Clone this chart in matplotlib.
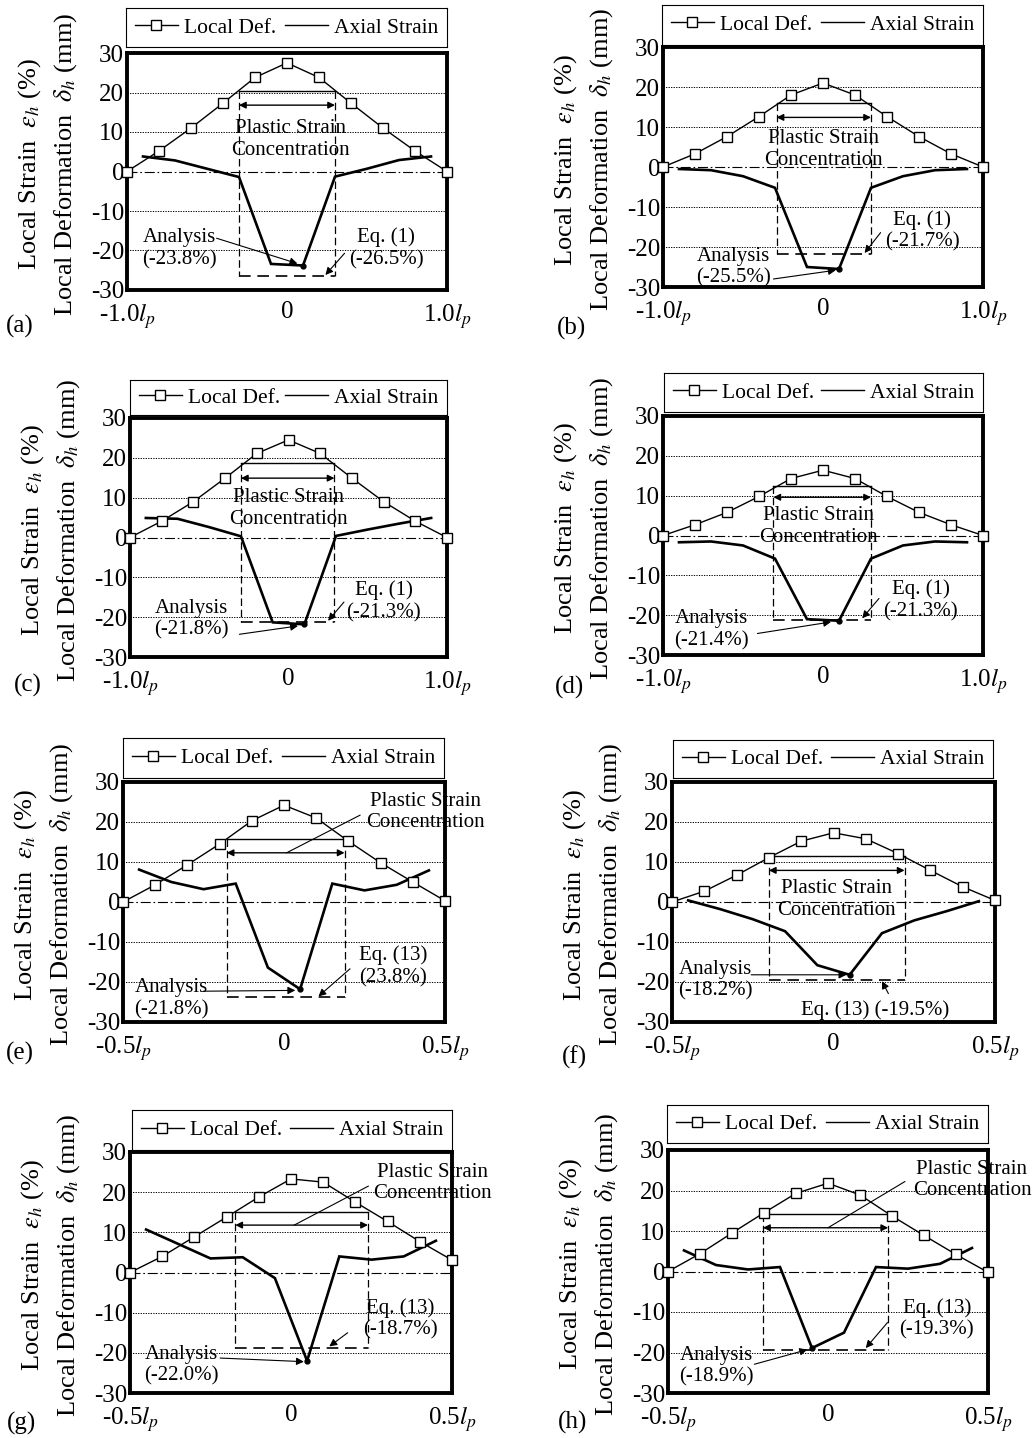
import numpy as np
import matplotlib
matplotlib.use("Agg")
import matplotlib.pyplot as plt
from matplotlib.lines import Line2D

plt.rcParams['font.family'] = ['Liberation Serif', 'DejaVu Serif']
plt.rcParams['mathtext.fontset'] = 'stix'
plt.rcParams['axes.unicode_minus'] = False

# ---------------- data ----------------
# gauge positions (fraction of plastic hinge length l_p)
X_FULL = [-1.0, -0.8, -0.6, -0.4, -0.2, 0.0, 0.2, 0.4, 0.6, 0.8, 1.0]
X_FULL_MID = [-0.9, -0.7, -0.5, -0.3, -0.1, 0.1, 0.3, 0.5, 0.7, 0.9]
X_HALF = [-0.5, -0.4, -0.3, -0.2, -0.1, 0.0, 0.1, 0.2, 0.3, 0.4, 0.5]
X_HALF_MID = [-0.45, -0.35, -0.25, -0.15, -0.05, 0.05, 0.15, 0.25, 0.35, 0.45]

# local deformation delta_h (mm)
DEF_A = [0, 5.2, 11.0, 17.3, 23.8, 27.5, 23.8, 17.3, 11.0, 5.2, 0]
DEF_B = [0, 3.3, 7.6, 12.6, 18.0, 21.0, 18.0, 12.6, 7.6, 3.3, 0]
DEF_C = [0, 4.1, 9.0, 14.9, 21.1, 24.5, 21.1, 14.9, 9.0, 4.1, 0]
DEF_D = [0, 2.7, 5.8, 9.8, 14.3, 16.4, 14.3, 9.8, 5.8, 2.7, 0]
DEF_E = [0, 4.3, 9.3, 14.5, 20.3, 24.2, 21.0, 15.2, 9.8, 5.0, 0.3]
DEF_F = [0, 2.7, 6.7, 11.1, 15.2, 17.3, 15.8, 12.1, 7.9, 3.8, 0.4]
DEF_G = [0, 4.0, 8.9, 13.8, 18.8, 23.3, 22.5, 17.5, 12.7, 7.7, 3.1]
DEF_H = [0, 4.4, 9.5, 14.5, 19.3, 21.8, 18.9, 13.7, 8.9, 4.2, -0.2]

# local axial strain epsilon_h (%)
STR_A = [3.8, 2.8, 0.7, -1.4, -23.4, -23.8, -1.3, 0.7, 2.9, 3.8]
STR_B = [-0.5, -0.8, -2.3, -5.2, -25.0, -25.5, -5.2, -2.3, -0.8, -0.5]
STR_C = [4.9, 4.7, 2.6, 0.3, -21.3, -21.8, 0.4, 2.0, 3.5, 4.9]
STR_D = [-1.7, -1.5, -2.5, -5.8, -21.0, -21.4, -5.8, -2.5, -1.5, -1.7]
STR_E = [8.1, 5.0, 3.2, 4.6, -16.4, -21.8, 4.6, 2.9, 4.3, 7.9]
STR_F = [0.4, -1.8, -4.3, -7.3, -15.8, -18.2, -7.8, -4.6, -2.3, 0.2]
STR_G = [10.7, 7.1, 3.5, 3.8, -1.4, -22.0, 4.0, 3.2, 4.0, 7.9]
STR_H = [5.2, 1.6, 0.5, 1.1, -18.9, -15.1, 1.1, 0.7, 1.9, 5.8]

# plastic strain concentration zone: left/right edge, top line, arrow level
ZONE_LEFT = [-0.30, -0.29, -0.30, -0.31, -0.178, -0.20, -0.173, -0.203]
ZONE_RIGHT = [0.30, 0.30, 0.29, 0.30, 0.188, 0.22, 0.239, 0.188]
ZONE_TOP = [20.5, 15.9, 18.7, 12.5, 15.8, 11.4, 15.0, 14.2]
ZONE_ARROW = [16.8, 12.4, 14.9, 9.6, 12.3, 7.9, 11.8, 10.8]

# predicted peak strain by equation (%)
EQ_VALUE = [-26.5, -21.7, -21.3, -21.3, -23.8, -19.5, -18.7, -19.3]
EQ_LABEL = ['Eq. (1)\n(-26.5%)', 'Eq. (1)\n(-21.7%)', 'Eq. (1)\n(-21.3%)',
            'Eq. (1)\n(-21.3%)', 'Eq. (13)\n(23.8%)', 'Eq. (13) (-19.5%)',
            'Eq. (13)\n(-18.7%)', 'Eq. (13)\n(-19.3%)']

PANEL_KEYS = ['a', 'b', 'c', 'd', 'e', 'f', 'g', 'h']
LOCAL_DEF = [DEF_A, DEF_B, DEF_C, DEF_D, DEF_E, DEF_F, DEF_G, DEF_H]
AXIAL_STRAIN = [STR_A, STR_B, STR_C, STR_D, STR_E, STR_F, STR_G, STR_H]

FULL_TICKS = ['-1.0$l_p$', '0', '1.0$l_p$']
HALF_TICKS = ['-0.5$l_p$', '0', '0.5$l_p$']
Y_TICKS = [-30, -20, -10, 0, 10, 20, 30]
YLABEL_OUTER = 'Local Strain  $\\varepsilon_h$ (%)'
YLABEL_INNER = 'Local Deformation  $\\delta_h$ (mm)'

# ---------------- layout (pixels in a 1034 x 1438 canvas) ----------------
W, H = 1034, 1438
LAYOUT = {
    'a': dict(ax=(127, 53, 447, 290), leg=(126, 8, 447, 47), lab=(20, 326)),
    'b': dict(ax=(663, 47, 983, 287), leg=(662, 5, 983, 45), lab=(572, 328)),
    'c': dict(ax=(130, 418, 447, 657), leg=(130, 380, 447, 415), lab=(28, 685)),
    'd': dict(ax=(663, 416, 983, 655), leg=(664, 373, 983, 412), lab=(570, 687)),
    'e': dict(ax=(123, 782, 445, 1022), leg=(123, 738, 444, 778), lab=(20, 1053)),
    'f': dict(ax=(672, 782, 995, 1022), leg=(673, 740, 993, 778), lab=(574, 1057)),
    'g': dict(ax=(130, 1152, 452, 1393), leg=(132, 1110, 452, 1150), lab=(21, 1423)),
    'h': dict(ax=(668, 1150, 988, 1393), leg=(667, 1105, 988, 1143), lab=(573, 1422)),
}
YLAB_OFFSET = (97, 61)   # px left of the plot edge for the two label lines

# text placement inside each panel (data coordinates)
NOTES = {
    'a': dict(ps=(0.02, 8.2), lead=None,
              an=(-0.67, -19.5), an_arrow=((-0.44, -16.9), (0.065, -23.3)),
              eq=(0.62, -19.5), eq_arrow=((0.36, -20.7), (0.24, -26.2))),
    'b': dict(ps=(0.0, 4.3), lead=None,
              an=(-0.56, -25.1), an_arrow=((-0.31, -28.0), (0.08, -25.8)),
              eq=(0.62, -16.0), eq_arrow=((0.36, -16.4), (0.26, -21.5))),
    'c': dict(ps=(0.0, 7.2), lead=None,
              an=(-0.61, -20.5), an_arrow=((-0.31, -24.3), (0.06, -22.2)),
              eq=(0.60, -16.0), eq_arrow=((0.35, -16.2), (0.25, -20.9))),
    'd': dict(ps=(-0.03, 2.2), lead=None,
              an=(-0.70, -23.6), an_arrow=((-0.41, -24.6), (0.05, -21.7)),
              eq=(0.61, -16.3), eq_arrow=((0.35, -15.8), (0.245, -20.8))),
    'e': dict(ps=(0.44, 22.5), lead=((0.008, 12.3), (0.236, 21.7)),
              an=(-0.35, -24.2), an_arrow=((-0.25, -22.3), (0.035, -22.1)),
              eq=(0.34, -16.1), eq_arrow=((0.205, -16.7), (0.107, -23.6))),
    'f': dict(ps=(0.01, 0.6), lead=None,
              an=(-0.365, -19.6), an_arrow=((-0.255, -18.2), (0.04, -18.2)),
              eq=(0.13, -27.1), eq_arrow=((0.17, -22.9), (0.15, -19.8))),
    'g': dict(ps=(0.44, 22.3), lead=((0.01, 11.8), (0.24, 21.5)),
              an=(-0.34, -23.1), an_arrow=((-0.22, -21.3), (0.04, -22.2)),
              eq=(0.34, -11.5), eq_arrow=((0.176, -15.0), (0.119, -18.4))),
    'h': dict(ps=(0.45, 22.6), lead=((0.0, 10.8), (0.24, 22.2)),
              an=(-0.35, -23.4), an_arrow=((-0.23, -22.9), (-0.065, -19.3)),
              eq=(0.34, -11.7), eq_arrow=((0.186, -12.6), (0.118, -18.9))),
}

FS_TICK = 18
FS_LABEL = 19
FS_NOTE = 15
FS_LEG = 15.5
FS_PANEL = 18

fig = plt.figure(figsize=(W / 100, H / 100), dpi=100)


def box(px):
    l, t, r, b = px
    return [l / W, 1 - b / H, (r - l) / W, (b - t) / H]


arrow_kw = dict(arrowstyle='-|>', color='black', lw=0.8, mutation_scale=11,
                shrinkA=0, shrinkB=0)

for i, key in enumerate(PANEL_KEYS):
    lay = LAYOUT[key]
    note = NOTES[key]
    full = key in 'abcd'
    xs = X_FULL if full else X_HALF
    xm = X_FULL_MID if full else X_HALF_MID
    half = 1.0 if full else 0.5
    dvals = LOCAL_DEF[i]
    svals = AXIAL_STRAIN[i]

    ax = fig.add_axes(box(lay['ax']))
    ax.set_xlim(-half, half)
    ax.set_ylim(-30, 30)

    # horizontal reference lines
    for g in (20, 10, -10, -20):
        ax.axhline(g, color='black', lw=0.7, ls=(0, (1.3, 1.3)), zorder=1)
    ax.axhline(0, color='black', lw=0.8, ls=(0, (9, 2.5, 1.5, 2.5)), zorder=1)

    # plastic strain concentration zone
    xl, xr = ZONE_LEFT[i], ZONE_RIGHT[i]
    top, arr, eq = ZONE_TOP[i], ZONE_ARROW[i], EQ_VALUE[i]
    ax.plot([xl, xr], [top, top], color='black', lw=1.0, zorder=2)
    ax.plot([xl, xl], [top, eq], color='black', lw=0.9, ls=(0, (6, 3)), zorder=2)
    ax.plot([xr, xr], [top, eq], color='black', lw=0.9, ls=(0, (6, 3)), zorder=2)
    ax.plot([xl, xr], [eq, eq], color='black', lw=1.2, ls=(0, (7, 4)), zorder=2)
    ax.annotate('', xy=(xl, arr), xytext=(xr, arr),
                arrowprops=dict(arrowstyle='<|-|>', color='black', lw=1.0,
                                mutation_scale=10, shrinkA=0, shrinkB=0))

    # measured curves
    ax.plot(xm, svals, color='black', lw=1.9, zorder=3, solid_joinstyle='miter')
    ax.plot(xs, dvals, color='black', lw=1.0, marker='s', ms=7.5, mfc='white',
            mec='black', mew=1.0, clip_on=False, zorder=5)
    k = int(np.argmin(svals))
    ax.plot([xm[k]], [svals[k]], 'o', color='black', ms=3.5, zorder=6)

    # notes
    px, py = note['ps']
    ax.text(px, py, 'Plastic Strain\nConcentration', ha='center', va='center',
            fontsize=FS_NOTE, linespacing=1.2, zorder=4, clip_on=False)
    if note['lead'] is not None:
        (x0, y0), (x1, y1) = note['lead']
        ax.plot([x0, x1], [y0, y1], color='black', lw=0.8, zorder=4)

    ax.text(*note['an'], 'Analysis\n(%.1f%%)' % svals[k], ha='center',
            va='center', fontsize=FS_NOTE, linespacing=1.2, zorder=4)
    s0, s1 = note['an_arrow']
    ax.annotate('', xy=s1, xytext=s0, arrowprops=arrow_kw, zorder=6)

    ax.text(*note['eq'], EQ_LABEL[i], ha='center', va='center',
            fontsize=FS_NOTE, linespacing=1.2, zorder=4)
    e0, e1 = note['eq_arrow']
    ax.annotate('', xy=e1, xytext=e0, arrowprops=arrow_kw, zorder=6)

    # axes styling
    for s in ax.spines.values():
        s.set_linewidth(2.8)
    ax.set_yticks(Y_TICKS)
    ax.set_yticklabels([str(v) for v in Y_TICKS])
    ax.set_xticks([-half, 0, half])
    ax.set_xticklabels(FULL_TICKS if full else HALF_TICKS)
    ax.tick_params(axis='both', length=0, labelsize=FS_TICK)
    ax.tick_params(axis='y', pad=2)
    ax.tick_params(axis='x', pad=8)

    # two-line vertical axis title
    width_px = lay['ax'][2] - lay['ax'][0]
    for txt, off in zip((YLABEL_OUTER, YLABEL_INNER), YLAB_OFFSET):
        ax.text(-off / width_px, 0.53, txt, transform=ax.transAxes,
                rotation=90, ha='center', va='center', fontsize=FS_LABEL)

    # legend box above the plot
    lax = fig.add_axes(box(lay['leg']))
    lax.set_xticks([])
    lax.set_yticks([])
    for s in lax.spines.values():
        s.set_linewidth(0.8)
    h1 = Line2D([], [], color='black', lw=1.0, marker='s', ms=7.5,
                mfc='white', mec='black', mew=1.0)
    h2 = Line2D([], [], color='black', lw=1.0)
    lax.legend([h1, h2], ['Local Def.', 'Axial Strain'], loc='center', ncol=2,
               frameon=False, mode='expand', bbox_to_anchor=(0, 0, 1, 1),
               fontsize=FS_LEG, handlelength=2.0, handletextpad=0.3,
               borderaxespad=0.3, borderpad=0.1, numpoints=1)

    lx, ly = lay['lab']
    fig.text(lx / W, 1 - ly / H, '(%s)' % key, ha='center', va='center',
             fontsize=FS_PANEL)

fig.savefig('out.png', dpi=100)
